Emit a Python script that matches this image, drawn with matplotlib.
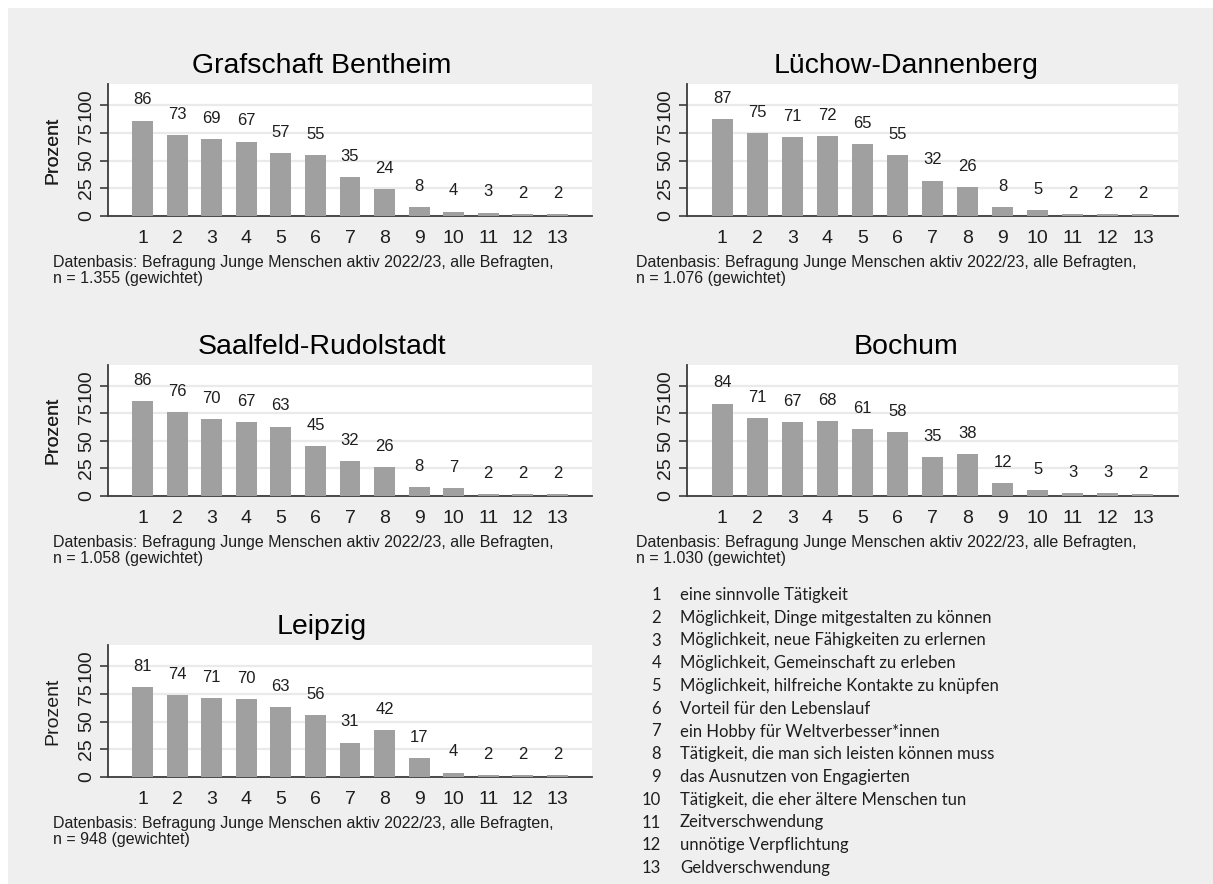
import matplotlib
matplotlib.use("Agg")
import matplotlib.pyplot as plt
from matplotlib.patches import Rectangle

# values (Prozent)
items = list(range(1, 14))
grafschaft = [86, 73, 69, 67, 57, 55, 35, 24, 8, 4, 3, 2, 2]
luechow = [87, 75, 71, 72, 65, 55, 32, 26, 8, 5, 2, 2, 2]
saalfeld = [86, 76, 70, 67, 63, 45, 32, 26, 8, 7, 2, 2, 2]
bochum = [84, 71, 67, 68, 61, 58, 35, 38, 12, 5, 3, 3, 2]
leipzig = [81, 74, 71, 70, 63, 56, 31, 42, 17, 4, 2, 2, 2]

titles = ["Grafschaft Bentheim", "Lüchow-Dannenberg", "Saalfeld-Rudolstadt",
          "Bochum", "Leipzig"]
sample_n = ["1.355", "1.076", "1.058", "1.030", "948"]

legend_labels = [
    "eine sinnvolle Tätigkeit",
    "Möglichkeit, Dinge mitgestalten zu können",
    "Möglichkeit, neue Fähigkeiten zu erlernen",
    "Möglichkeit, Gemeinschaft zu erleben",
    "Möglichkeit, hilfreiche Kontakte zu knüpfen",
    "Vorteil für den Lebenslauf",
    "ein Hobby für Weltverbesser*innen",
    "Tätigkeit, die man sich leisten können muss",
    "das Ausnutzen von Engagierten",
    "Tätigkeit, die eher ältere Menschen tun",
    "Zeitverschwendung",
    "unnötige Verpflichtung",
    "Geldverschwendung",
]

W, H = 1213, 884
plt.rcParams['font.family'] = ['Liberation Sans', 'DejaVu Sans']
fig = plt.figure(figsize=(W / 100, H / 100), dpi=100)
fig.patch.set_facecolor('white')
fig.patches.append(Rectangle((8 / W, 0), 1 - 8 / W, 1 - 8 / H,
                             transform=fig.transFigure, facecolor='#efefef',
                             edgecolor='none', zorder=-10))

txt = '#1e1e1e'
series = [grafschaft, luechow, saalfeld, bochum, leipzig]
# pixel boxes: (left, right) of plot area, graph region left, top/bottom of plot area
cols = [(108, 592, 52), (687, 1178, 635)]
rows = [(84, 216), (365, 496), (645, 777)]

for k, vals in enumerate(series):
    r, c = divmod(k, 2)
    x0, x1, gl = cols[c]
    top, bot = rows[r]
    ax = fig.add_axes([x0 / W, 1 - bot / H, (x1 - x0) / W, (bot - top) / H])
    ax.set_facecolor('white')
    ax.bar(items, vals, width=0.6, color='#a0a0a0', zorder=3)
    for xi, v in zip(items, vals):
        ax.annotate(str(v), (xi, v), xytext=(0, 9.5), textcoords='offset points',
                    ha='center', va='bottom', fontsize=12, color=txt)
    ax.set_xlim(0, 14)
    ax.set_ylim(0, 119)
    ax.set_yticks([0, 25, 50, 75, 100])
    ax.set_xticks(items)
    ax.grid(axis='y', color='#eaeaea', linewidth=1.6, zorder=0)
    for s in ['top', 'right']:
        ax.spines[s].set_visible(False)
    for s in ['left', 'bottom']:
        ax.spines[s].set_color('#3c3c3c')
        ax.spines[s].set_linewidth(1.3)
    ax.tick_params(axis='x', length=0, pad=10, labelsize=14, labelcolor=txt)
    ax.tick_params(axis='y', length=5.5, width=1.2, color='#3c3c3c', pad=4,
                   labelsize=14, labelcolor=txt)
    for lab in ax.get_yticklabels():
        lab.set_rotation(90)
        lab.set_va('center')
    ax.set_ylabel('Prozent', fontsize=14, color=txt)
    ax.yaxis.set_label_coords((61 - x0) / (x1 - x0), 0.5)

    # title centred over graph region
    fig.text(((gl + x1) / 2) / W, 1 - (top - 18) / H, titles[k],
             ha='center', va='center', fontsize=20.5, color='black')
    fig.text((gl + 1) / W, 1 - (bot + 39) / H,
             "Datenbasis: Befragung Junge Menschen aktiv 2022/23, alle Befragten,\n"
             "n = " + sample_n[k] + " (gewichtet)",
             ha='left', va='top', fontsize=11.5, color=txt, linespacing=1.05)

# legend of item numbers
for i, lab in enumerate(legend_labels):
    y = 1 - (595 + 22.75 * i) / H
    fig.text(661 / W, y, str(i + 1), ha='right', va='center', fontsize=12,
             family='Lato', color=txt)
    fig.text(680 / W, y, lab, ha='left', va='center', fontsize=12,
             family='Lato', color=txt)

fig.savefig('out.png', dpi=100, facecolor=fig.get_facecolor())
